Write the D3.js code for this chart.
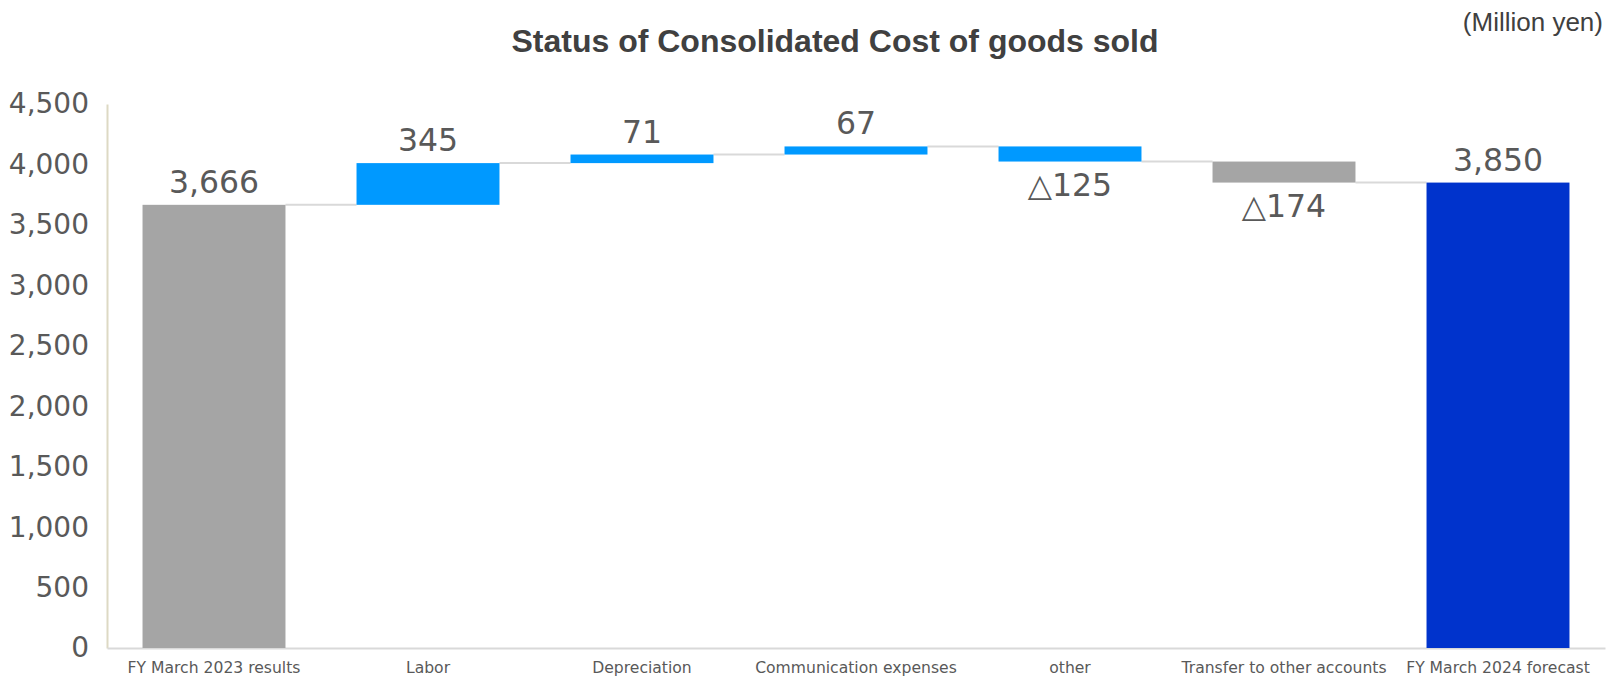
<!DOCTYPE html>
<meta charset="utf-8">
<style>
  body { margin: 0; background: #fff; }
  text { font-family: "DejaVu Sans", Verdana, sans-serif; }
</style>
<div id="chart"></div>
<script src="https://d3js.org/d3.v7.min.js"></script>
<script>
    // data
    var categories = ["FY March 2023 results", "Labor", "Depreciation", "Communication expenses", "other", "Transfer to other accounts", "FY March 2024 forecast"];
    var values = [3666, 345, 71, 67, -125, -174, 3850];
    var kinds = ["total", "delta", "delta", "delta", "delta", "delta", "total"];
    var barColors = ["#A5A5A5", "#0099FF", "#0099FF", "#0099FF", "#0099FF", "#A5A5A5", "#0033CC"];
    var yTicks = [0, 500, 1000, 1500, 2000, 2500, 3000, 3500, 4000, 4500];

    var W = 1606, H = 686;
    var margin = {top: 104, right: 1, bottom: 38, left: 107};

    var svg = d3.select("#chart").append("svg").attr("width", W).attr("height", H);

    // build waterfall steps
    var run = 0;
    var steps = categories.map(function(c, i) {
        var v = values[i], lo, hi;
        if (kinds[i] == "total") { lo = 0; hi = v; run = v; }
        else { lo = Math.min(run, run + v); hi = Math.max(run, run + v); run = run + v; }
        return {cat: c, v: v, lo: lo, hi: hi, end: run, kind: kinds[i], color: barColors[i]};
    });

    var x = d3.scaleBand().domain(categories).range([margin.left, W - margin.right]).paddingInner(0.332).paddingOuter(0.166);
    var y = d3.scaleLinear().domain([0, 4500]).range([H - margin.bottom, margin.top]);

    // title
    svg.append("text")
        .attr("x", 835).attr("y", 52)
        .attr("text-anchor", "middle")
        .style("font-family", "Arial, Helvetica, sans-serif")
        .style("font-weight", "bold").style("font-size", "32px")
        .attr("fill", "#404040")
        .text("Status of Consolidated Cost of goods sold");

    svg.append("text")
        .attr("x", 1603).attr("y", 31)
        .attr("text-anchor", "end")
        .style("font-family", "Arial, Helvetica, sans-serif")
        .style("font-size", "26px")
        .attr("fill", "#404040")
        .text("(Million yen)");

    // Y axis
    var yAxis = svg.append("g")
        .attr("transform", "translate(" + margin.left + ",0)")
        .call(d3.axisLeft(y).tickValues(yTicks).tickSize(0).tickPadding(18).tickFormat(d3.format(",")));
    yAxis.select(".domain").attr("stroke", "#DDD9C4").attr("stroke-width", 2);
    yAxis.selectAll("text").style("font-size", "28px").attr("fill", "#595959");

    // X axis
    var xAxis = svg.append("g")
        .attr("transform", "translate(0," + y(0) + ")")
        .call(d3.axisBottom(x).tickSize(0).tickPadding(14));
    xAxis.select(".domain").attr("stroke", "#D9D9D9").attr("stroke-width", 2);
    xAxis.selectAll("text").style("font-size", "15.6px").attr("fill", "#595959");

    // connectors
    svg.selectAll(".conn")
        .data(steps.slice(0, -1))
        .enter()
        .append("line")
            .attr("x1", function(d) { return x(d.cat) + x.bandwidth(); })
            .attr("x2", function(d, i) { return x(categories[i + 1]); })
            .attr("y1", function(d) { return y(d.end); })
            .attr("y2", function(d) { return y(d.end); })
            .attr("stroke", "#D9D9D9").attr("stroke-width", 2);

    // bars
    svg.selectAll(".bar")
        .data(steps)
        .enter()
        .append("rect")
            .attr("x", function(d) { return x(d.cat); })
            .attr("width", x.bandwidth())
            .attr("y", function(d) { return y(d.hi); })
            .attr("height", function(d) { return y(d.lo) - y(d.hi); })
            .attr("fill", function(d) { return d.color; });

    // value labels
    svg.selectAll(".lbl")
        .data(steps)
        .enter()
        .append("text")
            .attr("x", function(d) { return x(d.cat) + x.bandwidth() / 2; })
            .attr("y", function(d) { return d.v < 0 ? y(d.lo) + 34 : y(d.hi) - 12; })
            .attr("text-anchor", "middle")
            .style("font-size", "31.5px")
            .attr("fill", "#595959")
            .text(function(d) { return d.v < 0 ? "△" + d3.format(",")(-d.v) : d3.format(",")(d.v); });
</script>
